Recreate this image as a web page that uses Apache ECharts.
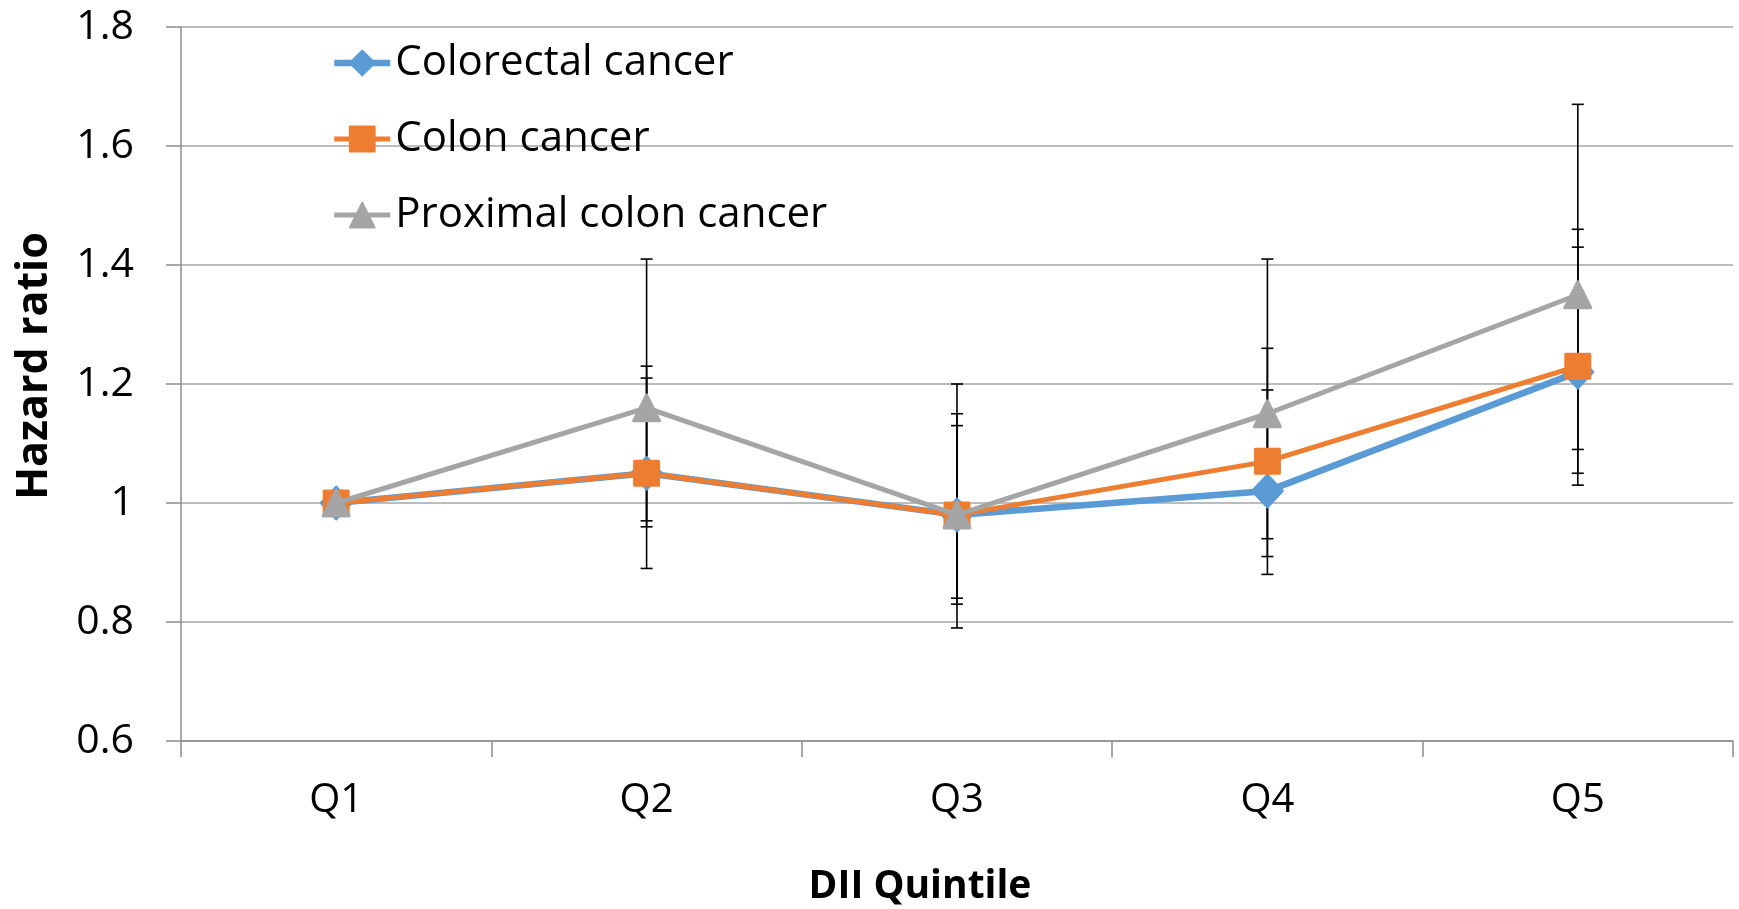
<!DOCTYPE html>
<html>
<head>
<meta charset="utf-8">
<script src="https://cdn.jsdelivr.net/npm/echarts@6/dist/echarts.min.js"></script>
<style>
html,body{margin:0;padding:0;background:#fff;}
#chart{width:1739px;height:909px;}
</style>
</head>
<body>
<div id="chart"></div>
<script>
const categories = ['Q1', 'Q2', 'Q3', 'Q4', 'Q5'];
const seriesNames = ['Colorectal cancer', 'Colon cancer', 'Proximal colon cancer'];
const colorectal = [1.00, 1.05, 0.98, 1.02, 1.22];
const colorectalLow = [null, 0.89, 0.84, 0.88, 1.05];
const colorectalHigh = [null, 1.23, 1.13, 1.19, 1.43];
const colon = [1.00, 1.05, 0.98, 1.07, 1.23];
const colonLow = [null, 0.97, 0.83, 0.91, 1.03];
const colonHigh = [null, 1.21, 1.15, 1.26, 1.46];
const proximal = [1.00, 1.16, 0.98, 1.15, 1.35];
const proximalLow = [null, 0.96, 0.79, 0.94, 1.09];
const proximalHigh = [null, 1.41, 1.20, 1.41, 1.67];
const yTicks = [0.6, 0.8, 1.0, 1.2, 1.4, 1.6, 1.8];

const FONT = '"Open Sans", "Liberation Sans", sans-serif';
const COLORS = ['#5B9BD5', '#ED7D31', '#A5A5A5'];
const WIDTHS = [6.5, 5, 5];

function errData(low, high) {
  const out = [];
  for (let i = 0; i < categories.length; i++) {
    if (low[i] != null && high[i] != null) out.push([i, low[i], high[i]]);
  }
  return out;
}

function errSeries(name, low, high) {
  return {
    type: 'custom',
    name: name + ' CI',
    z: 1,
    silent: true,
    data: errData(low, high),
    encode: { x: 0, y: [1, 2] },
    renderItem: function (params, api) {
      const x = api.value(0);
      const lo = api.coord([x, api.value(1)]);
      const hi = api.coord([x, api.value(2)]);
      const cap = 6;
      const st = { stroke: '#000', lineWidth: 1.6 };
      return {
        type: 'group',
        children: [
          { type: 'line', shape: { x1: lo[0], y1: lo[1], x2: hi[0], y2: hi[1] }, style: st },
          { type: 'line', shape: { x1: lo[0] - cap, y1: lo[1], x2: lo[0] + cap, y2: lo[1] }, style: st },
          { type: 'line', shape: { x1: hi[0] - cap, y1: hi[1], x2: hi[0] + cap, y2: hi[1] }, style: st }
        ]
      };
    }
  };
}

const chart = echarts.init(document.getElementById('chart'), null, { renderer: 'canvas' });

const option = {
  animation: false,
  backgroundColor: '#ffffff',
  grid: { left: 181, right: 6, top: 27, bottom: 168, containLabel: false },
  legend: {
    data: seriesNames.map(function (n, i) {
      return { name: n, lineStyle: { width: WIDTHS[i], color: COLORS[i] } };
    }),
    orient: 'vertical',
    left: 331,
    top: 42,
    itemWidth: 56,
    itemHeight: 31,
    itemGap: 34,
    padding: 0,
    textStyle: { fontFamily: FONT, fontSize: 42, color: '#000', lineHeight: 42 }
  },
  xAxis: {
    type: 'category',
    data: categories,
    boundaryGap: true,
    axisLine: { show: true, lineStyle: { color: '#8c8c8c', width: 1.5 } },
    axisTick: { show: true, length: 16, interval: 0, lineStyle: { color: '#8c8c8c', width: 1.5 } },
    axisLabel: { fontFamily: FONT, fontSize: 40, color: '#000', margin: 40, lineHeight: 40 },
    splitLine: { show: false }
  },
  yAxis: {
    type: 'value',
    min: 0.6,
    max: 1.8,
    interval: 0.2,
    axisLine: { show: true, lineStyle: { color: '#8c8c8c', width: 1.5 } },
    axisTick: { show: true, length: 15, lineStyle: { color: '#8c8c8c', width: 1.5 } },
    axisLabel: {
      fontFamily: FONT, fontSize: 41, color: '#000', margin: 47,
      formatter: function (v) { return String(parseFloat(v.toFixed(1))); }
    },
    splitLine: { show: true, lineStyle: { color: '#a6a6a6', width: 1.5 } }
  },
  graphic: [
    {
      type: 'text',
      x: 35, y: 366,
      rotation: Math.PI / 2,
      style: {
        text: 'Hazard ratio', fontFamily: FONT, fontSize: 43, fontWeight: 'bold',
        fill: '#000', align: 'center', verticalAlign: 'middle'
      }
    },
    {
      type: 'text',
      x: 920, y: 887,
      style: {
        text: 'DII Quintile', fontFamily: FONT, fontSize: 39, fontWeight: 'bold',
        fill: '#000', align: 'center', verticalAlign: 'middle'
      }
    }
  ],
  series: [
    errSeries(seriesNames[0], colorectalLow, colorectalHigh),
    errSeries(seriesNames[1], colonLow, colonHigh),
    errSeries(seriesNames[2], proximalLow, proximalHigh),
    {
      name: seriesNames[0],
      type: 'line',
      z: 3,
      data: colorectal,
      symbol: 'diamond',
      symbolSize: [31, 33],
      lineStyle: { color: COLORS[0], width: WIDTHS[0] },
      itemStyle: { color: COLORS[0], borderColor: COLORS[0], borderWidth: 2, borderJoin: 'round' }
    },
    {
      name: seriesNames[1],
      type: 'line',
      z: 4,
      data: colon,
      symbol: 'rect',
      symbolSize: [24, 24],
      lineStyle: { color: COLORS[1], width: WIDTHS[1] },
      itemStyle: { color: COLORS[1], borderColor: COLORS[1], borderWidth: 3, borderJoin: 'round' }
    },
    {
      name: seriesNames[2],
      type: 'line',
      z: 5,
      data: proximal,
      symbol: 'triangle',
      symbolSize: [26, 26],
      lineStyle: { color: COLORS[2], width: WIDTHS[2] },
      itemStyle: { color: COLORS[2], borderColor: COLORS[2], borderWidth: 3, borderJoin: 'round' }
    }
  ]
};

chart.setOption(option);
</script>
</body>
</html>
